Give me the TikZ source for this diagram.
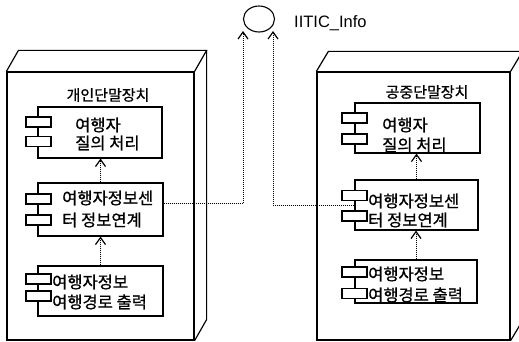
\documentclass[tikz,border=0pt]{standalone}
\usepackage{fontspec}
\newfontfamily\kr[FakeBold=0.8]{Noto Sans CJK KR}
\newfontfamily\arialf{Liberation Sans}
\usetikzlibrary{arrows.meta,shapes.geometric}
\begin{document}
\begin{tikzpicture}[x=1pt,y=-1pt,
  frame/.style={draw, line width=1.2pt, rectangle, inner sep=0pt},
  faceline/.style={line width=1.2pt, line join=miter},
  comp/.style={draw, line width=1.1pt, rectangle, inner sep=0pt, fill=white},
  tab/.style={draw, line width=1.1pt, rectangle, inner sep=0pt, fill=white, minimum width=25pt, minimum height=10pt},
  dep/.style={line width=0.8pt, dash pattern=on 1pt off 1pt, -{Straight Barb[length=7pt,width=10pt,line width=1.2pt]}},
  title/.style={font=\kr\fontsize{15}{18}\selectfont, inner sep=0pt},
  ctext/.style={align=left, anchor=west, inner sep=0pt}]
\useasboundingbox (0,0) rectangle (519,342);
% left device
\node[frame, minimum width=187pt, minimum height=268pt] (lnode) at (100.5,206) {};
\draw[faceline] (lnode.north west) -- ++(12,-21) -- ([shift={(12,-21)}]lnode.north east) -- (lnode.north east);
\draw[faceline] ([shift={(12,-21)}]lnode.north east) -- ([shift={(12,-21)}]lnode.south east) -- (lnode.south east);
\node[title] (ltitle) at (108,95) {개인단말장치};
% right device
\node[frame, minimum width=193pt, minimum height=268pt] (rnode) at (413.5,206) {};
\draw[faceline] (rnode.north west) -- ++(12,-20) -- ([shift={(12,-20)}]rnode.north east) -- (rnode.north east);
\draw[faceline] ([shift={(12,-20)}]rnode.north east) -- ([shift={(12,-20)}]rnode.south east) -- (rnode.south east);
\node[title] (rtitle) at (427,92) {공중단말장치};
% left components
\node[comp, minimum width=124pt, minimum height=51pt] (lc1) at (100,132.5) {};
\node[comp, minimum width=125pt, minimum height=53pt] (lc2) at (100.5,209.5) {};
\node[comp, minimum width=125pt, minimum height=50pt] (lc3) at (100.5,291) {};
\node[tab] (lc1a) at (38.5,122) {};
\node[tab] (lc1b) at (38.5,141.5) {};
\node[tab] (lc2a) at (38.5,199) {};
\node[tab] (lc2b) at (38.5,220) {};
\node[tab] (lc3a) at (38.5,279) {};
\node[tab] (lc3b) at (38.5,296) {};
\node[ctext, font=\kr\fontsize{16.5}{18}\selectfont] (lt1) at (75,134) {여행자\\질의 처리};
\node[ctext, font=\kr\fontsize{16.5}{22}\selectfont] (lt2) at (62,209) {여행자정보센\\터 정보연계};
\node[ctext, font=\kr\fontsize{16.5}{20}\selectfont] (lt3) at (52,292) {여행자정보\\여행경로 출력};
% right components
\node[comp, minimum width=125pt, minimum height=50pt] (rc1) at (417.5,128) {};
\node[comp, minimum width=123pt, minimum height=50pt] (rc2) at (416.5,205) {};
\node[comp, minimum width=122pt, minimum height=43pt] (rc3) at (416,281.5) {};
\node[tab] (rc1a) at (354.5,118) {};
\node[tab] (rc1b) at (354.5,139) {};
\node[tab] (rc2a) at (354.5,195.5) {};
\node[tab] (rc2b) at (354.5,216) {};
\node[tab] (rc3a) at (354.5,272) {};
\node[tab] (rc3b) at (354.5,293.5) {};
\node[ctext, font=\kr\fontsize{16.5}{20}\selectfont] (rt1) at (382,135) {여행자\\질의 처리};
\node[ctext, font=\kr\fontsize{16.5}{19}\selectfont] (rt2) at (368,210.5) {여행자정보센\\터 정보연계};
\node[ctext, font=\kr\fontsize{16.5}{21}\selectfont] (rt3) at (368,284.5) {여행자정보\\여행경로 출력};
% interface
\node[draw, ellipse, line width=1.1pt, minimum width=31pt, minimum height=26pt, inner sep=0pt] (iface) at (259,19) {};
\node[font=\arialf\fontsize{16.5}{18}\selectfont, anchor=west, inner sep=0pt] (ilabel) at (294,23) {IITIC\_Info};
\coordinate (tipL) at (243,31);
\coordinate (tipR) at (273,31);
% dependencies
\draw[dep] (lc2.north) -- (lc2.north |- lc1.south);
\draw[dep] (lc3.north) -- (lc3.north |- lc2.south);
\draw[dep] (rc2.north) -- (rc2.north |- rc1.south);
\draw[dep] (rc3.north) -- (rc3.north |- rc2.south);
\draw[dep] ([yshift=6pt]lc2.east) -| (tipL);
\draw[dep] (rc2.west) -| (tipR);
\end{tikzpicture}
\end{document}
